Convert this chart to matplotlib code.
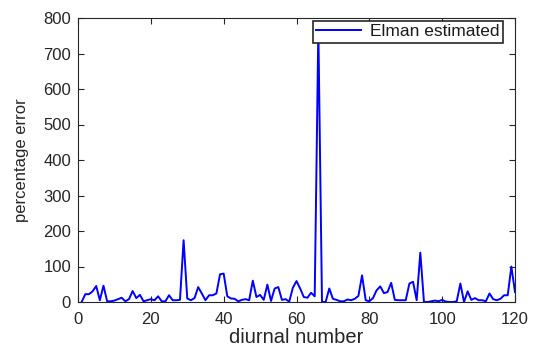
import numpy as np
import matplotlib
matplotlib.use('Agg')
import matplotlib.pyplot as plt

plt.rcParams['font.family'] = ['Liberation Sans', 'DejaVu Sans']

# diurnal number 1..120 and percentage error
dias = np.arange(1, 121)
erro = [0, 22, 22, 30, 45, 5, 46, 2, 2, 4,
        8, 12, 2, 8, 31, 11, 20, 2, 5, 8,
        5, 16, 2, 2, 19, 5, 5, 6, 174, 10,
        5, 11, 42, 24, 5, 19, 19, 24, 78, 80,
        16, 10, 9, 2, 6, 8, 5, 60, 14, 20,
        6, 49, 3, 38, 42, 6, 8, 1, 40, 59,
        38, 14, 12, 26, 16, 770, 0, 0, 38, 9,
        6, 2, 2, 7, 5, 9, 17, 75, 5, 2,
        11, 33, 44, 25, 28, 54, 6, 5, 5, 5,
        52, 57, 5, 139, 0, 0, 2, 4, 2, 6,
        1, 0, 0, 2, 52, 0, 30, 6, 11, 5,
        5, 2, 24, 8, 5, 9, 19, 19, 100, 28]

cinza = '#262626'

fig = plt.figure(figsize=(5.34, 3.47), dpi=100)
ax = fig.add_axes([78 / 534, 45 / 347, 437 / 534, 284 / 347])

ax.plot(dias, erro, color='#0000ff', linewidth=1.4, label='Elman estimated')

ax.set_xlim(0, 120)
ax.set_ylim(0, 800)
ax.set_xticks(np.arange(0, 121, 20))
ax.set_yticks(np.arange(0, 801, 100))
ax.tick_params(direction='in', length=4, width=0.8, colors=cinza,
               labelsize=12, top=True, right=True, pad=5)
ax.tick_params(axis='x', pad=7)
for s in ax.spines.values():
    s.set_color(cinza)
    s.set_linewidth(0.8)

ax.set_xlabel('diurnal number', fontsize=14.5, color=cinza, labelpad=1)
ax.set_ylabel('percentage error', fontsize=12, color=cinza, labelpad=10)

leg = ax.legend(loc='upper right', bbox_to_anchor=(0.9725, 0.99), borderaxespad=0,
                fontsize=12.5, fancybox=False, framealpha=1, edgecolor=cinza,
                handlelength=2.6, borderpad=0.2, handletextpad=0.5)
leg.get_frame().set_linewidth(1.2)
for t in leg.get_texts():
    t.set_color('#1a1a1a')

fig.savefig('out.png', dpi=100)
